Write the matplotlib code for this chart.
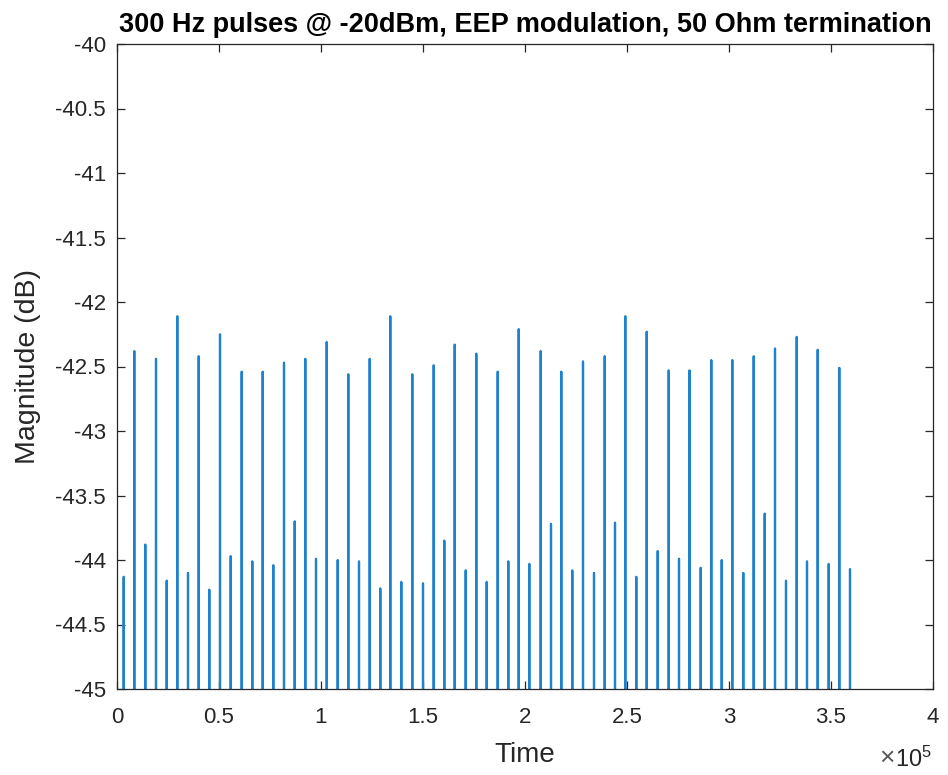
import numpy as np
import matplotlib
matplotlib.use("Agg")
import matplotlib.pyplot as plt
from matplotlib.ticker import FuncFormatter, MultipleLocator

plt.rcParams["font.family"] = ["Liberation Sans", "DejaVu Sans"]
plt.rcParams["mathtext.default"] = "regular"

# pulse centres (samples) and peak magnitudes (dB)
pulse_time = [3284, 8480, 13873, 19118, 24363, 29559, 34804, 40049, 45245, 50490,
              55735, 61127, 66324, 71422, 76618, 81863, 87108, 92304, 97549, 102794,
              108186, 113382, 118627, 123873, 129069, 133971, 139363, 144755, 150000, 155245,
              160441, 165539, 170931, 176127, 181225, 186618, 191814, 196912, 202108, 207696,
              212745, 217794, 223186, 228431, 233824, 239069, 244118, 249167, 254559, 259657,
              265049, 270441, 275490, 280637, 286127, 291324, 296422, 301618, 307010, 312108,
              317500, 322549, 327941, 333186, 338235, 343480, 348873, 354069, 359314]
pulse_peak = [-44.13, -42.38, -43.88, -42.44, -44.16, -42.11, -44.10, -42.42, -44.23, -42.25,
              -43.97, -42.54, -44.01, -42.54, -44.04, -42.47, -43.70, -42.44, -43.99, -42.31,
              -44.00, -42.56, -44.01, -42.44, -44.22, -42.11, -44.17, -42.56, -44.18, -42.49,
              -43.85, -42.33, -44.08, -42.40, -44.17, -42.54, -44.01, -42.21, -44.03, -42.38,
              -43.72, -42.54, -44.08, -42.46, -44.10, -42.42, -43.71, -42.11, -44.13, -42.23,
              -43.93, -42.53, -43.99, -42.53, -44.06, -42.45, -44.00, -42.45, -44.10, -42.42,
              -43.64, -42.36, -44.16, -42.27, -44.01, -42.37, -44.03, -42.51, -44.07]
floor_db = -60.0

title_text = "300 Hz pulses @ -20dBm, EEP modulation, 50 Ohm termination"

# build a sampled trace: floor -> peak -> floor around every pulse
t = np.asarray(pulse_time, dtype=float)
p = np.asarray(pulse_peak)
trace_t = np.column_stack([t - 1, t, t + 1]).ravel()
trace_y = np.column_stack([np.full_like(p, floor_db), p, np.full_like(p, floor_db)]).ravel()

fig = plt.figure(figsize=(9.48, 7.75), dpi=100)
ax = fig.add_axes([117 / 948, 86 / 775, 816 / 948, 645 / 775])
ax.plot(trace_t, trace_y, color="#1f82cc", linewidth=1.6)

ax.set_xlim(0, 4e5)
ax.set_ylim(-45, -40)
ax.xaxis.set_major_locator(MultipleLocator(0.5e5))
ax.yaxis.set_major_locator(MultipleLocator(0.5))
ax.xaxis.set_major_formatter(FuncFormatter(lambda v, pos: f"{v / 1e5:g}"))
ax.yaxis.set_major_formatter(FuncFormatter(lambda v, pos: f"{v:g}"))

axis_col = "#262626"
for s in ax.spines.values():
    s.set_color(axis_col)
    s.set_linewidth(0.9)
ax.tick_params(direction="in", length=6, width=0.9, colors=axis_col,
               top=True, right=True, labelsize=16)
ax.tick_params(axis="x", pad=13)
ax.tick_params(axis="y", pad=8)

ax.set_xlabel("Time", fontsize=20, color=axis_col, labelpad=10)
ax.set_ylabel("Magnitude (dB)", fontsize=20.5, color=axis_col, labelpad=10)
ax.set_title(title_text, fontsize=19.5, fontweight="bold", color="black", pad=9)

# exponent note under the right end of the x axis
ax.text(0.953, -0.106, "\u00d7", transform=ax.transAxes, ha="right", va="center",
        fontsize=19, color="#555555")
ax.text(0.954, -0.090, r"$10^{5}$", transform=ax.transAxes, ha="left", va="top",
        fontsize=17, color=axis_col)

fig.savefig("out.png", dpi=100, facecolor="white")
